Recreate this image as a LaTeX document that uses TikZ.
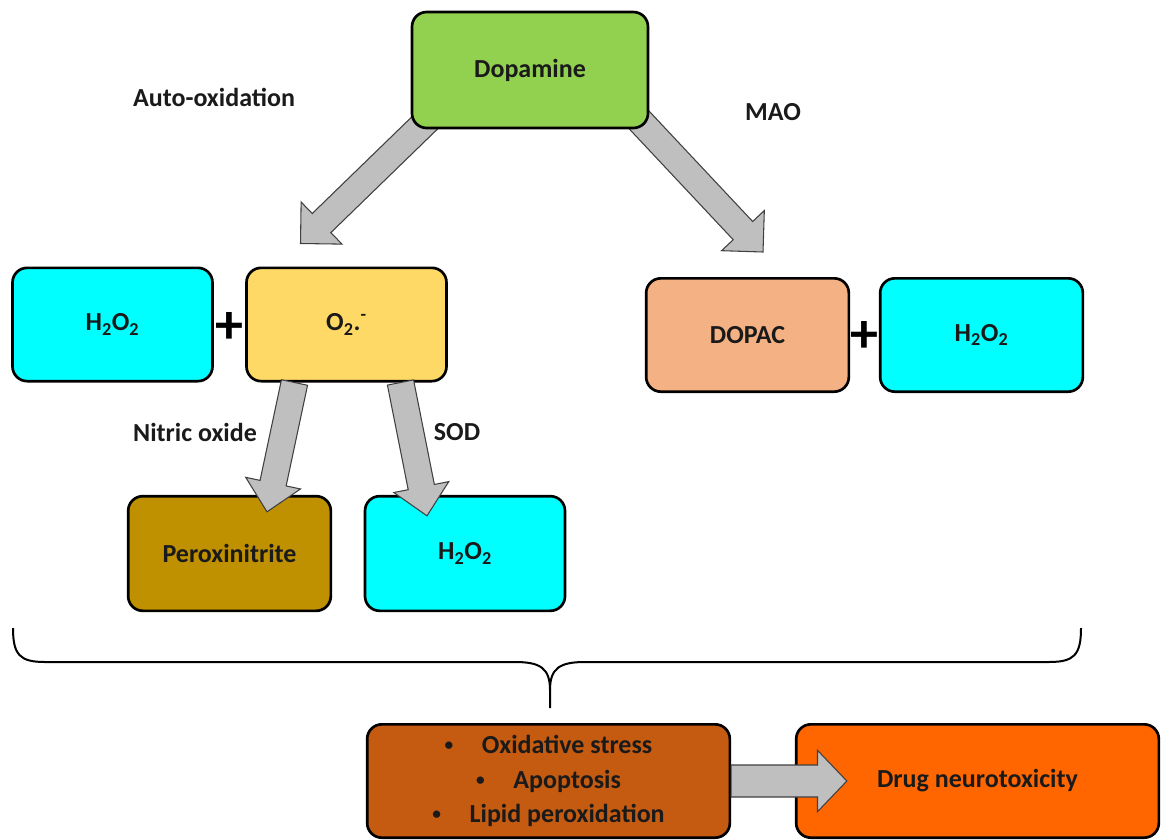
\documentclass[tikz,border=0pt]{standalone}
\usepackage{fontspec}
\setmainfont{Carlito}
\usepackage{xcolor}
\usetikzlibrary{calc,backgrounds}

\definecolor{dopagreen}{HTML}{92D050}
\definecolor{peroxcyan}{HTML}{00FFFF}
\definecolor{superyellow}{HTML}{FFD966}
\definecolor{dopacsalmon}{HTML}{F4B183}
\definecolor{nitritegold}{HTML}{BF9000}
\definecolor{stressbrown}{HTML}{C55A11}
\definecolor{toxorange}{HTML}{FF6600}
\definecolor{inkgray}{HTML}{1A1A1A}

\begin{document}
\begin{tikzpicture}[x=0.75pt, y=-0.75pt, line width=2pt]
	\newcommand{\fatarrow}[4]{%
		\coordinate (fb) at ($(#2)!22pt!(#1)$);
		\draw[blockarrow] ($(#1)!#3!90:(#2)$) -- ($(fb)!#3!90:(#2)$) -- ($(fb)!#4!90:(#2)$) -- (#2)
			-- ($(fb)!#4!-90:(#2)$) -- ($(fb)!#3!-90:(#2)$) -- ($(#1)!#3!-90:(#2)$) -- cycle;}
	\newcommand{\blt}{\raisebox{2.2pt}{\fontsize{13}{13}\selectfont\textbullet}\hspace{1.1em}}
	\tikzstyle{box} =[draw=black, rounded corners=11pt, line width=2pt, minimum width=150pt, minimum height=85pt, text=inkgray, font=\fontsize{19.5}{26}\selectfont\bfseries]
	\tikzstyle{lbl} =[text=inkgray, font=\fontsize{19.5}{24}\selectfont\bfseries]
	\tikzstyle{plus} =[text=black, font=\fontsize{42}{42}\selectfont\bfseries]
	\tikzstyle{blockarrow} =[draw=black!75, line width=0.8pt, fill=black!25]
	\useasboundingbox (0,0) rectangle (1162,839);
	\node[box, fill=dopagreen, minimum width=177pt, minimum height=87pt] (dopamine) at (530,70) {Dopamine};
	\node[box, fill=peroxcyan] (h2o2a) at (112.5,324.5) {H\textsubscript{2}O\textsubscript{2}};
	\node[box, fill=superyellow] (o2) at (346.5,324.5) {O\textsubscript{2}.\textsuperscript{-}};
	\node[box, fill=dopacsalmon, minimum width=152pt] (dopac) at (747.5,335) {DOPAC};
	\node[box, fill=peroxcyan, minimum width=152pt] (h2o2b) at (981.5,335) {H\textsubscript{2}O\textsubscript{2}};
	\node[box, fill=nitritegold, minimum width=152pt, minimum height=86pt] (perox) at (229.5,553.5) {Peroxinitrite};
	\node[box, fill=peroxcyan, minimum height=86pt] (h2o2c) at (465,553.5) {H\textsubscript{2}O\textsubscript{2}};
	\node[box, fill=stressbrown, minimum width=272pt, align=center] (stress) at (548.5,781)
		{\blt Oxidative stress\\ \blt Apoptosis\\ \blt Lipid peroxidation};
	\node[box, fill=toxorange, minimum width=272pt] (tox) at (977.5,781) {Drug neurotoxicity};
	\node[plus] (plusa) at (229.5,328) {+};
	\node[plus] (plusb) at (864.5,337) {+};
	\foreach \n/\x/\y/\t in {autoox/214/97/Auto-oxidation, mao/773/112/MAO, nitric/195/432/Nitric oxide, sod/457/432/SOD}
		{\node[lbl] (\n) at (\x,\y) {\t}; }
	\coordinate (da) at ($(dopamine.south west)+(28,-20)$);
	\coordinate (db) at ($(dopamine.south east)+(-23,-23)$);
	\coordinate (ta) at ($(o2.north)+(-46,-23)$);
	\coordinate (tb) at ($(dopac.north)+(15.5,-25)$);
	\coordinate (oa) at ($(o2.south)+(-52,0)$);
	\coordinate (ob) at ($(o2.south)+(54,0)$);
	\coordinate (pa) at ($(perox.north)+(37.5,17)$);
	\coordinate (pb) at ($(h2o2c.north)+(-38,21)$);
	\coordinate (sa) at (stress.east);
	\coordinate (sb) at ($(tox.west)+(52,0)$);
	\begin{pgfonlayer}{background}
		\fatarrow{da}{ta}{10pt}{22pt}
		\fatarrow{db}{tb}{10pt}{22pt}
	\end{pgfonlayer}
	\fatarrow{oa}{pa}{10pt}{21pt}
	\fatarrow{ob}{pb}{10pt}{21pt}
	\fatarrow{sa}{sb}{12pt}{23pt}
	\coordinate (bl) at (13,628);
	\coordinate (br) at (1081,628);
	\coordinate (bt) at (550,708);
	\draw[line width=1.5pt] (bl) .. controls (13,655) and (20,662) .. (45,662) -- (515,662)
		.. controls (540,662) and (550,668) .. (550,690) -- (bt);
	\draw[line width=1.5pt] (br) .. controls (1081,655) and (1074,662) .. (1049,662) -- (585,662)
		.. controls (560,662) and (550,668) .. (550,690);
\end{tikzpicture}
\end{document}
